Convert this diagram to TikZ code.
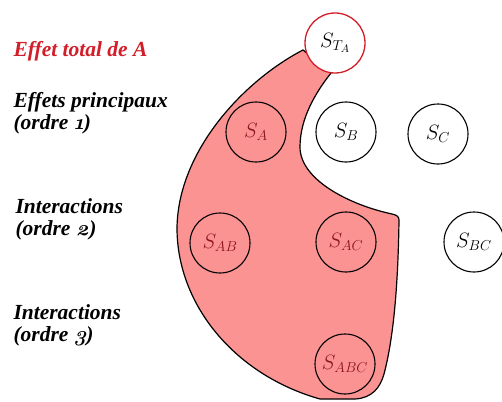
\documentclass[tikz,border=0pt]{standalone}
\usepackage{fontspec}
\setmainfont{Liberation Serif}
\newfontfamily\osfont{Latin Modern Roman}
\newcommand{\osdig}[1]{{\osfont\oldstylenums{#1}}}
\begin{document}
\begin{tikzpicture}[x=1pt,y=-1pt,
  lab/.style={anchor=base west,align=left,font=\fontsize{21.5}{22}\selectfont\bfseries\itshape},
  sc/.style={circle,draw=black,line width=1.1pt,minimum size=60pt,inner sep=0pt,font=\fontsize{22}{26}\selectfont},
  inred/.style={sc,text=darkred},
  outred/.style={sc,text=black}]
\definecolor{pinkfill}{RGB}{252,147,147}
\definecolor{darkred}{RGB}{140,20,30}
\definecolor{titlered}{RGB}{210,30,40}
\useasboundingbox (0,0) rectangle (502,401);
% total-effect region
\path[fill=pinkfill,draw=black,line width=1.2pt]
  (303,50) .. controls (245,80) and (178,150) .. (177,228)
  .. controls (177,305) and (235,375) .. (320,399)
  -- (355,399) .. controls (372,398) and (380,388) .. (384,374)
  .. controls (393,340) and (398,290) .. (399,220)
  .. controls (399,216) and (396,215) .. (392,214)
  .. controls (350,205) and (300,180) .. (300,147)
  .. controls (300,118) and (316,92) .. (331,73) -- cycle;
% circles
\node[sc,draw=titlered,fill=white,line width=1.3pt] (sta) at (335,43) {$S_{T_A}$};
\node[inred] (sa) at (256,132) {$S_A$};
\node[outred] (sb) at (346,132) {$S_B$};
\node[outred] (scc) at (438,134) {$S_C$};
\node[inred] (sab) at (220,243) {$S_{AB}$};
\node[inred] (sac) at (346,242) {$S_{AC}$};
\node[outred] (sbc) at (474,242) {$S_{BC}$};
\node[inred] (sabc) at (345,364) {$S_{ABC}$};
% labels
\node[lab,text=titlered] (l0) at (10,57) {Effet total de A};
\node[lab] (l1) at (10,129) {Effets principaux\\(ordre \osdig{1})};
\node[lab] (l2) at (12,235) {Interactions\\(ordre \osdig{2})};
\node[lab] (l3) at (10,341) {Interactions\\(ordre \osdig{3})};
\end{tikzpicture}
\end{document}
